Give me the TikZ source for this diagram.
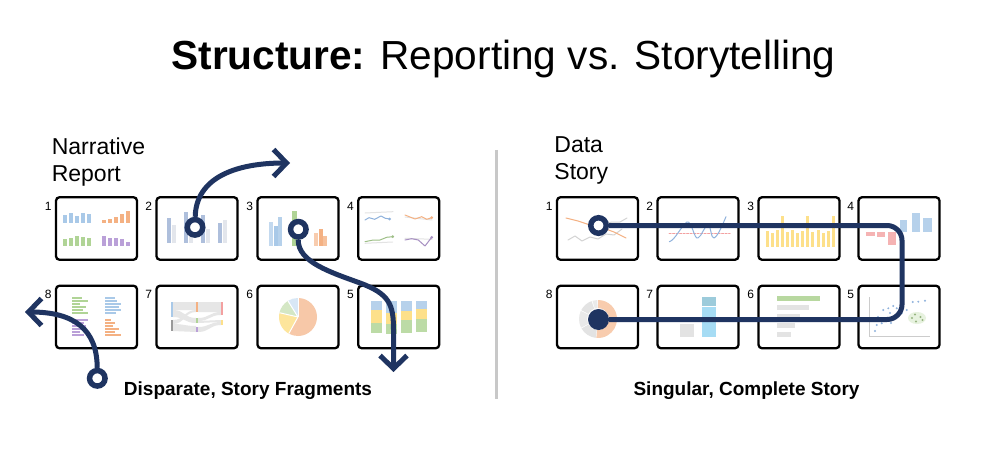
\documentclass[tikz,border=0pt]{standalone}
\usepackage{fontspec}
\setmainfont{Liberation Sans}
\usetikzlibrary{arrows.meta}
\definecolor{navy}{RGB}{31,52,97}
\definecolor{cblue}{RGB}{169,201,232}
\definecolor{cbluel}{RGB}{143,178,220}
\definecolor{corange}{RGB}{244,177,131}
\definecolor{cgreen}{RGB}{176,212,150}
\definecolor{cpurple}{RGB}{186,160,216}
\definecolor{cyellow}{RGB}{253,224,138}
\definecolor{cgray}{RGB}{227,227,227}
\definecolor{cred}{RGB}{243,160,160}
\definecolor{cflow}{RGB}{230,230,230}
\definecolor{cdiv}{RGB}{200,200,200}
\definecolor{cdark}{RGB}{174,191,220}
\definecolor{clight}{RGB}{227,230,236}
\definecolor{cteal}{RGB}{156,203,219}
\definecolor{csky}{RGB}{166,220,244}
\newcommand\flowband[6]{\fill[cflow] (#1,#2) .. controls ({(#1+#4)/2},#2) and ({(#1+#4)/2},#5) .. (#4,#5) -- (#4,#6) .. controls ({(#1+#4)/2},#6) and ({(#1+#4)/2},#3) .. (#1,#3) -- cycle;}
\newcommand\txtblock[4]{\foreach \i/\l in {#4}{\draw[#3,line width=1.5pt] ({#1},{#2+3*\i}) -- ++(\l,0);}}
\newcommand\panelwithnum[4]{\node[panelbox] (#1) at (#2,#3) {};\node[numlbl] (#1n) at ([xshift=-3pt,yshift=-5.5pt]#1.north west) {#4};}
\begin{document}
\begin{tikzpicture}[x=1pt,y=-1pt,
 panelbox/.style={draw=black, line width=2.3pt, rounded corners=3.5pt, minimum width=81pt, minimum height=62.5pt, inner sep=0pt},
 numlbl/.style={font=\fontsize{12}{12}\selectfont, inner sep=0pt, anchor=north east},
 route/.style={draw=navy, line width=5pt},
 chev/.style={-{Straight Barb[length=13pt,width=27pt]}},
 startring/.style={circle, draw=navy, line width=5.5pt, fill=white, minimum size=15.5pt, inner sep=0pt},
 endspot/.style={circle, fill=navy, minimum size=21pt, inner sep=0pt},
 heading/.style={font=\fontsize{23}{26.7}\selectfont, align=left, anchor=north west, inner sep=0pt},
 caption/.style={font=\bfseries\fontsize{19}{19}\selectfont, anchor=base, inner sep=0pt},
 chartline/.style={line width=1pt, line join=round, line cap=round}]
\useasboundingbox (0,0) rectangle (1000,457);
\fill[white] (0,0) rectangle (1000,457);

% title and headings
\node[font=\fontsize{40.6}{40.6}\selectfont, anchor=base, inner sep=0pt] (title) at (503.5,69.5) {\textbf{Structure:} Reporting vs. Storytelling};
\node[heading] (hleft) at (51.6,137.5) {Narrative\\Report};
\node[heading] (hright) at (554.2,136.5) {Data\\Story};
\node[caption] (capleft) at (248,395) {Disparate, Story Fragments};
\node[caption] (capright) at (746.5,395) {Singular, Complete Story};
\draw[cdiv, line width=3pt] (496.7,150) -- (496.7,399);

% ---------- chart contents, left ----------
% L1
\foreach \x/\h in {8/8,14/10,20/7,26/10,32/9} \fill[cblue] (55+\x,223) rectangle ++(3.5,-\h);
\foreach \x/\h in {47/3,53/4,59/6,65/9,71/12} \fill[corange] (55+\x,223) rectangle ++(3.5,-\h);
\foreach \x/\h in {8/7,14/8,20/10,26/9,32/8} \fill[cgreen] (55+\x,246) rectangle ++(3.5,-\h);
\foreach \x/\h in {47/10,53/8,59/8,65/7,71/4} \fill[cpurple] (55+\x,246) rectangle ++(3.5,-\h);
% L2
\foreach \x/\h in {11/25,28/31,45/28,62/20} \fill[cdark] (156+\x,243) rectangle ++(4,-\h);
\foreach \x/\h in {16/18,33/24,50/14,67/23} \fill[clight] (156+\x,243) rectangle ++(4,-\h);
% L3
\fill[cblue!70] (269,246) rectangle ++(4,-24);
\fill[cblue] (273.5,246) rectangle ++(4,-20);
\fill[cblue!85] (278,246) rectangle ++(4,-29);
\fill[cgreen!60] (297,246) rectangle ++(3,-22);
\fill[cgreen] (292,246) rectangle ++(5,-35);
\fill[corange!65] (314,246) rectangle ++(4,-13);
\fill[corange] (318.5,246) rectangle ++(4,-17);
\fill[corange!80] (323,246) rectangle ++(4,-10);
% L4
\begin{scope}[shift={(357,196)}]
\draw[cgray, chartline] (8,17) -- (36,15.7);
\draw[cbluel, chartline] (8,24) -- (12,21.7) -- (17.7,23.3) -- (24,20) -- (28.3,22.3) -- (32.7,23);
\fill[cbluel] (32.7,23) circle[radius=1.5];
\draw[cgray, chartline] (48,21) -- (75,24);
\draw[corange, chartline] (48,19) -- (58,23) -- (64.7,20.7) -- (69.7,23.3) -- (74.7,21.7);
\fill[corange] (74.7,21.7) circle[radius=1.5];
\draw[cgray, chartline] (8,47.3) -- (35.7,46);
\draw[cgreen!90!black, chartline] (8,45.7) -- (16.3,44) -- (23,44) -- (29.7,41.3) -- (35.7,40.7);
\fill[cgreen!90!black] (35.7,40.7) circle[radius=1.5];
\draw[cgray, chartline] (48,42.3) -- (75,43.3);
\draw[cpurple!90!black, chartline] (48,44) -- (54.7,42.7) -- (61.3,44) -- (68,50) -- (74.7,41.3);
\fill[cpurple!90!black] (74.7,41.3) circle[radius=1.5];
\end{scope}
% L8
\txtblock{72}{298}{cgreen}{0/10,1/16,2/8,3/14,4/11,5/16}
\txtblock{105}{298}{cblue}{0/10,1/12,2/16,3/14,4/16,5/11}
\txtblock{72}{320}{cpurple}{0/16,1/12,2/14,3/10,4/8,5/12}
\txtblock{105}{320}{corange}{0/6,1/10,2/8,3/14,4/10,5/16}
% L7 sankey
\flowband{173}{302}{310}{196}{302}{310}
\flowband{173}{310}{317}{196}{318}{323}
\flowband{173}{320}{324}{196}{310}{312}
\flowband{173}{324}{331}{196}{326}{332}
\flowband{198}{302}{312}{221}{302}{312}
\flowband{198}{318}{321}{221}{312}{315}
\flowband{198}{321}{323}{221}{320}{322}
\flowband{198}{327}{332}{221}{322}{325}
\fill[cblue] (171,302) rectangle (173,317);
\fill[black!40] (171,320) rectangle (173,331);
\fill[corange] (196,302) rectangle (198,312);
\fill[cgreen] (196,318) rectangle (198,323);
\fill[cpurple] (196,327) rectangle (198,332);
\fill[cred] (221,302) rectangle (223,315);
\fill[cyellow] (221,320) rectangle (223,325);
% L6 pie
\begin{scope}[shift={(298,317)}]
\fill[corange!70] (0,0) -- (-90:19) arc[start angle=-90, end angle=119, radius=19] -- cycle;
\fill[cyellow!85] (0,0) -- (119:19) arc[start angle=119, end angle=193, radius=19] -- cycle;
\fill[cgreen!55] (0,0) -- (193:19) arc[start angle=193, end angle=238, radius=19] -- cycle;
\fill[cblue!45] (0,0) -- (238:19) arc[start angle=238, end angle=270, radius=19] -- cycle;
\foreach \a in {-90,119,193,238} \draw[white, line width=1pt] (0,0) -- (\a:19);
\end{scope}
% L5 stacked
\foreach \x/\a/\b/\c/\d in {371/301/310/322.5/333, 386/301/313/324/333.5, 401/301/311/320/333, 415.5/301/309/319/332}{
  \fill[cblue!85] (\x,\a) rectangle (\x+11,\b);
  \fill[cyellow] (\x,\b) rectangle (\x+11,\c);
  \fill[cgreen!85] (\x,\c) rectangle (\x+11,\d);}

% ---------- chart contents, right ----------
% R1
\draw[cgray!80!black!60, chartline] (568,240) -- (575,236) -- (582,241) -- (590,237) -- (598,239) -- (606,234) -- (614,235) -- (622,229);
\draw[cgray!80!black!60, chartline] (600,225) -- (612,222) -- (620,222) -- (627,218);
\draw[corange, chartline] (566,218) -- (578,221) -- (590,225) -- (603,228) -- (614,232) -- (626,238);
% R2
\draw[cred, chartline, dash pattern=on 2pt off 1.5pt] (669,233) -- (730,233);
\draw[cbluel, chartline] (669.3,241.7) .. controls (675,240) and (680,228) .. (686.7,222) .. controls (692,220) and (694,240) .. (698,238) .. controls (702,236) and (704,226) .. (708.3,225) .. controls (711,226) and (711,239) .. (714,238) .. controls (718,236) and (722,226) .. (726,216.7);
% R3
\foreach \i/\t in {0/231,1/233,2/230,3/216,4/232,5/230,6/233,7/231,8/216,9/232,10/230,11/233,12/231,13/216}
  \fill[cyellow] ({765.5+\i*5.1},247) rectangle ++(3,{\t-247});
% R4
\fill[cred!80] (866,232) rectangle (875,235.5);
\fill[cred!80] (877,232) rectangle (885,236.5);
\fill[cred!80] (888,232) rectangle (896,245);
\fill[cblue!85] (900,220) rectangle (907,232);
\fill[cblue!85] (911.5,212.5) rectangle (920,232);
\fill[cblue!85] (923,218) rectangle (932,232);
% R8 donut
\begin{scope}[shift={(598,319)}]
\fill[corange!65] (-90:19) arc[start angle=-90, end angle=95, radius=19] -- (95:11) arc[start angle=95, end angle=-90, radius=11] -- cycle;
\foreach \a/\b/\c in {97/150/cgray, 153/205/cgray!80, 208/250/cgray, 253/268/cgray!75}
  \fill[\c] (\a:19) arc[start angle=\a, end angle=\b, radius=19] -- (\b:11) arc[start angle=\b, end angle=\a, radius=11] -- cycle;
\end{scope}
% R7
\fill[cgray] (680,324) rectangle (694,337);
\fill[cteal] (702,297) rectangle (716,305.5);
\fill[csky] (702,307) rectangle (716,337);
% R6
\fill[cgreen!90] (777,296) rectangle (820,301);
\fill[cgray] (777,305) rectangle (809,310);
\fill[cgray] (777,314) rectangle (800,318.5);
\fill[cgray] (777,323) rectangle (795,327.5);
\fill[cgray] (777,332) rectangle (791,336.5);
% R5 scatter
\draw[cgray!80!black!70, line width=0.8pt] (869,297) -- (869,336) -- (930,336);
\fill[cgreen!30] (917,318) ellipse[x radius=9, y radius=6];
\foreach \p in {(875,331),(876.7,325),(881.7,323.3),(885,320),(891,323),(890,313),(883.3,310),(896.7,308.3),(901.7,313.3),(906.7,310),(912.7,302),(918.3,301.7),(925,300.7),(888.3,308.3),(893.3,306),(878,317)}
  \fill[cbluel] \p circle[radius=1.1];
\foreach \p in {(912,318),(916,321.5),(920.5,317),(915,314.5),(922.5,320)}
  \fill[cgreen!85!black] \p circle[radius=1.1];

% ---------- panels ----------
\panelwithnum{L1}{96.5}{228.5}{1}
\panelwithnum{L2}{197}{228.5}{2}
\panelwithnum{L3}{298}{228.5}{3}
\panelwithnum{L4}{398.7}{228.5}{4}
\panelwithnum{L8}{96.5}{317}{8}
\panelwithnum{L7}{197}{317}{7}
\panelwithnum{L6}{298}{317}{6}
\panelwithnum{L5}{398.7}{317}{5}
\panelwithnum{R1}{597.5}{228.5}{1}
\panelwithnum{R2}{698}{228.5}{2}
\panelwithnum{R3}{799}{228.5}{3}
\panelwithnum{R4}{899}{228.5}{4}
\panelwithnum{R8}{597.5}{317}{8}
\panelwithnum{R7}{698}{317}{7}
\panelwithnum{R6}{799}{317}{6}
\panelwithnum{R5}{899}{317}{5}

% ---------- routes ----------
\node[startring] (sL2) at (195,227.3) {};
\node[startring] (sL3) at (298.3,229.3) {};
\node[startring] (sL8) at (97.3,378.3) {};
\node[startring] (sR) at (598.5,225.5) {};
\node[endspot] (eR) at (598.5,319.5) {};
\coordinate (tip1) at (290,163);
\coordinate (tip2) at (393.5,372);
\coordinate (tip3) at (25,312);
\draw[route, chev] (sL2) .. controls (196,178) and (235,163) .. (tip1);
\draw[route, chev] (sL3) .. controls (298,262) and (330,272) .. (360,283) .. controls (390,294) and (393.5,305) .. (393.5,330) -- (tip2);
\draw[route, chev] (sL8) .. controls (97,330) and (75,312) .. (tip3);
\draw[route, rounded corners=15pt] (sR) -- (902,225.5) -- (902,319.5) -- (eR);
\end{tikzpicture}
\end{document}
